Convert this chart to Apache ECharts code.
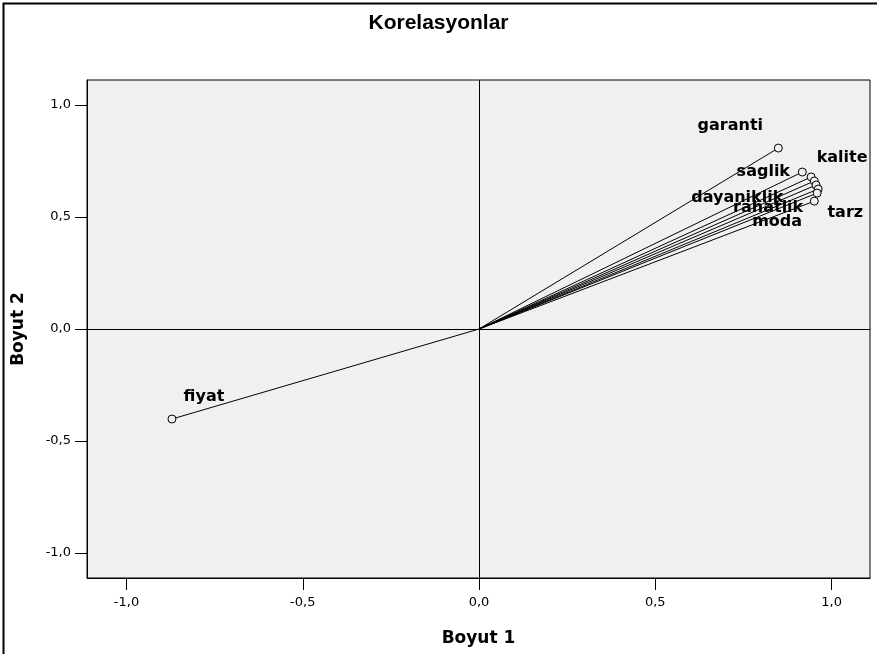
<!DOCTYPE html>
<html>
<head>
<meta charset="utf-8">
<script src="https://cdn.jsdelivr.net/npm/echarts@6/dist/echarts.min.js"></script>
<style>html,body{margin:0;padding:0;background:#fff}#c{width:877px;height:654px}</style>
</head>
<body>
<div id="c"></div>
<script>
// ---- data ----
var variables = ['fiyat', 'garanti', 'saglik', 'kalite', 'dayaniklik', '', 'rahatlik', 'moda', 'tarz'];
var boyut1 = [-0.871, 0.849, 0.917, 0.942, 0.951, 0.956, 0.962, 0.959, 0.951];
var boyut2 = [-0.402, 0.808, 0.701, 0.679, 0.661, 0.643, 0.625, 0.607, 0.571];
var tickValues = [-1.0, -0.5, 0.0, 0.5, 1.0];

// ---- label placement (style only) ----
var labelOffsets = {
  'fiyat': [32, -22], 'garanti': [-48, -22], 'saglik': [-39, 0], 'kalite': [31, -19],
  'dayaniklik': [-77, 17], 'rahatlik': [-50, 19], 'moda': [-40, 29], 'tarz': [31, 12]
};

function fmt(v) { return v.toFixed(1).replace('.', ','); }

var series = variables.map(function (name, i) {
  var end = { value: [boyut1[i], boyut2[i]] };
  if (name) {
    end.label = {
      show: true, position: 'inside', offset: labelOffsets[name] || [0, -15],
      formatter: name, color: '#000', fontFamily: 'DejaVu Sans', fontWeight: 'bold', fontSize: 16
    };
  }
  return {
    type: 'line', name: name || ('v' + i), data: [[0, 0], end],
    symbol: 'circle', showSymbol: true,
    symbolSize: function (v, p) { return p.dataIndex === 1 ? 8 : 0; },
    itemStyle: { color: '#f0f0f0', borderColor: '#000', borderWidth: 1 },
    lineStyle: { color: '#000', width: 1 },
    label: { show: false },
    emphasis: { disabled: true }, silent: true, z: 3
  };
});

series.unshift({
  type: 'line', data: [], silent: true,
  markLine: {
    symbol: 'none', silent: true, label: { show: false },
    lineStyle: { color: '#000', width: 1, type: 'solid' },
    data: [{ xAxis: 0 }, { yAxis: 0 }]
  }
});

var axisCommon = {
  type: 'value', splitLine: { show: false },
  axisLine: { show: true, onZero: false, lineStyle: { color: '#000', width: 1 } },
  axisTick: { show: true, customValues: tickValues, length: 12, lineStyle: { color: '#000' } },
  axisLabel: { customValues: tickValues, formatter: fmt, color: '#000', fontFamily: 'DejaVu Sans', fontSize: 13 },
  nameLocation: 'middle',
  nameTextStyle: { color: '#000', fontFamily: 'DejaVu Sans', fontWeight: 'bold', fontSize: 17 }
};

var option = {
  animation: false,
  backgroundColor: '#fff',
  title: {
    text: 'Korelasyonlar', left: 'center', top: 8,
    textStyle: { color: '#000', fontFamily: 'Liberation Sans', fontWeight: 'bold', fontSize: 21 }
  },
  grid: {
    left: 87, right: 7, top: 80, bottom: 76,
    show: true, backgroundColor: '#f0f0f0', borderColor: '#000', borderWidth: 1
  },
  xAxis: Object.assign({}, axisCommon, {
    min: -1.112, max: 1.109, name: 'Boyut 1', nameGap: 52,
    axisLabel: Object.assign({}, axisCommon.axisLabel, { margin: 18 })
  }),
  yAxis: Object.assign({}, axisCommon, {
    min: -1.112, max: 1.112, name: 'Boyut 2', nameGap: 60, nameRotate: 90,
    axisLabel: Object.assign({}, axisCommon.axisLabel, { margin: 16 })
  }),
  graphic: [{
    type: 'rect', left: 1, top: 1, silent: true,
    shape: { width: 900, height: 700 },
    style: { fill: 'none', stroke: '#000', lineWidth: 2 }
  }],
  series: series
};

var chart = echarts.init(document.getElementById('c'), null, { renderer: 'canvas' });
chart.setOption(option);
</script>
</body>
</html>
